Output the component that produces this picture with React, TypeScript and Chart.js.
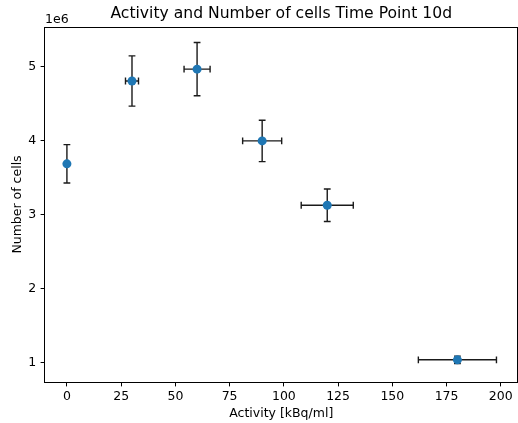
import React, { useEffect, useRef } from "react";
import { Chart, registerables } from "chart.js";

Chart.register(...registerables);

const activity = [0, 30, 60, 90, 120, 180];
const activityErr = [0, 3, 6, 9, 12, 18];
const cells = [3.69e6, 4.81e6, 4.97e6, 4.0e6, 3.13e6, 1.04e6];
const cellsErr = [0.26e6, 0.34e6, 0.36e6, 0.28e6, 0.22e6, 0.05e6];
const xTicks = [0, 25, 50, 75, 100, 125, 150, 175, 200];
const yTicks = [1e6, 2e6, 3e6, 4e6, 5e6];

const titleText = "Activity and Number of cells Time Point 10d";
const xLabel = "Activity [kBq/ml]";
const yLabel = "Number of cells";
const offsetText = "1e6";

const FONT = "'DejaVu Sans', sans-serif";
const TICK_SIZE = 12.5;

const errorBarPlugin = {
  id: "errorBars",
  beforeDatasetsDraw(chart: any) {
    const { ctx, scales } = chart;
    const xs = scales.x;
    const ys = scales.y;
    ctx.save();
    ctx.strokeStyle = "#1a1a1a";
    ctx.lineWidth = 1.4;
    const cap = 3.4;
    for (let i = 0; i < activity.length; i++) {
      const x = xs.getPixelForValue(activity[i]);
      const y = ys.getPixelForValue(cells[i]);
      const yTop = ys.getPixelForValue(cells[i] + cellsErr[i]);
      const yBot = ys.getPixelForValue(cells[i] - cellsErr[i]);
      ctx.beginPath();
      ctx.moveTo(x, yTop);
      ctx.lineTo(x, yBot);
      ctx.moveTo(x - cap, yTop);
      ctx.lineTo(x + cap, yTop);
      ctx.moveTo(x - cap, yBot);
      ctx.lineTo(x + cap, yBot);
      if (activityErr[i] > 0) {
        const xl = xs.getPixelForValue(activity[i] - activityErr[i]);
        const xr = xs.getPixelForValue(activity[i] + activityErr[i]);
        ctx.moveTo(xl, y);
        ctx.lineTo(xr, y);
        ctx.moveTo(xl, y - cap);
        ctx.lineTo(xl, y + cap);
        ctx.moveTo(xr, y - cap);
        ctx.lineTo(xr, y + cap);
      }
      ctx.stroke();
    }
    ctx.restore();
  },
  afterDraw(chart: any) {
    const { ctx, chartArea } = chart;
    ctx.save();
    ctx.strokeStyle = "#000";
    ctx.lineWidth = 1;
    ctx.strokeRect(
      Math.round(chartArea.left) - 0.5,
      Math.round(chartArea.top) + 0.5,
      Math.round(chartArea.right - chartArea.left),
      Math.round(chartArea.bottom - chartArea.top)
    );
    ctx.fillStyle = "#000";
    ctx.textBaseline = "middle";
    ctx.textAlign = "center";
    ctx.font = `15.6px ${FONT}`;
    ctx.fillText(titleText, (chartArea.left + chartArea.right) / 2, 14);
    ctx.textAlign = "left";
    ctx.font = `${TICK_SIZE}px ${FONT}`;
    ctx.fillText(offsetText, chartArea.left, 19.5);
    ctx.restore();
  },
};

export default function App() {
  const ref = useRef<HTMLCanvasElement>(null);
  useEffect(() => {
    if (!ref.current) return;
    const chart = new Chart(ref.current, {
      type: "scatter",
      data: {
        datasets: [
          {
            data: activity.map((a, i) => ({ x: a, y: cells[i] })),
            backgroundColor: "#1f77b4",
            borderColor: "#1f77b4",
            pointRadius: 4.5,
            pointBorderWidth: 0,
            showLine: false,
          },
        ],
      },
      options: {
        animation: false,
        responsive: false,
        layout: { padding: { top: 27, right: 1, left: 0, bottom: 0 } },
        plugins: { legend: { display: false }, tooltip: { enabled: false }, title: { display: false } },
        scales: {
          x: {
            type: "linear",
            min: -10.1,
            max: 207.7,
            afterBuildTicks: (s: any) => {
              s.ticks = xTicks.map((v) => ({ value: v }));
            },
            afterFit: (s: any) => {
              s.height = 41;
              s.paddingLeft = 0;
              s.paddingRight = 0;
            },
            border: { display: false },
            grid: { drawOnChartArea: false, drawTicks: true, tickLength: 4.4, color: "#000" },
            ticks: { color: "#000", font: { family: FONT, size: TICK_SIZE }, padding: 3, maxRotation: 0 },
            title: {
              display: true,
              text: xLabel,
              color: "#000",
              font: { family: FONT, size: TICK_SIZE },
              padding: { top: 0, bottom: 1.5 },
            },
          },
          y: {
            type: "linear",
            min: 0.74e6,
            max: 5.54e6,
            afterBuildTicks: (s: any) => {
              s.ticks = yTicks.map((v) => ({ value: v }));
            },
            afterFit: (s: any) => {
              s.width = 45;
              s.paddingTop = 0;
              s.paddingBottom = 0;
            },
            border: { display: false },
            grid: { drawOnChartArea: false, drawTicks: true, tickLength: 4.4, color: "#000" },
            ticks: {
              color: "#000",
              font: { family: FONT, size: TICK_SIZE },
              padding: 4.5,
              callback: (v: any) => String(Math.round(Number(v) / 1e6)),
            },
            title: {
              display: true,
              text: yLabel,
              color: "#000",
              font: { family: FONT, size: TICK_SIZE },
              padding: { top: 10, bottom: 0 },
            },
          },
        },
      },
      plugins: [errorBarPlugin],
    });
    return () => chart.destroy();
  }, []);
  return (
    <div
      style={{
        position: "fixed",
        left: 0,
        top: 0,
        width: 518,
        height: 423,
        overflow: "hidden",
        background: "#fff",
      }}
    >
      <canvas ref={ref} width={522} height={423} style={{ display: "block" }} />
    </div>
  );
}
